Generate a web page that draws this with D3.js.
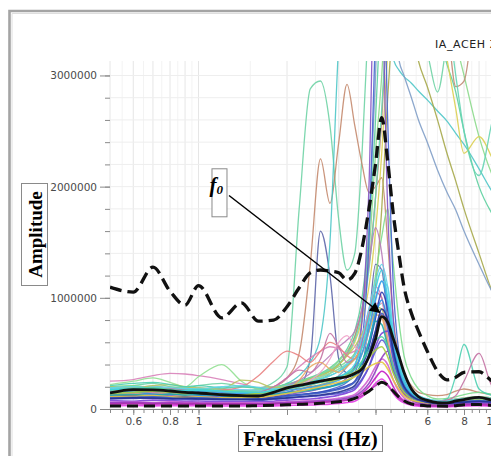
<!DOCTYPE html>
<html>
<head>
<meta charset="utf-8">
<script src="https://cdn.jsdelivr.net/npm/d3@7"></script>
<style>
  html, body { margin: 0; padding: 0; background: #fff; overflow: hidden; }
  svg { display: block; }
</style>
</head>
<body>
<div id="chart"></div>
<script>
// Frequency grid shared by every curve (Hz)
const freqHz = [0.5,0.6,0.7,0.8,0.9,1.0,1.2,1.4,1.6,1.8,2.0,2.2,2.4,2.6,2.8,3.0,3.2,3.4,3.6,3.8,4.0,4.2,4.4,4.6,4.8,5.0,5.3,5.6,6.0,6.5,7.0,7.5,8.0,9.0,10,11];

// Amplitudes below are in thousands
const meanPlusStd  = [1096,1051,1276,1060,934,1110,820,955,790,800,920,1090,1225,1250,1240,1225,1160,1220,1450,1800,2200,2620,2230,1750,1400,1100,860,700,520,340,262,285,330,335,250,220];
const meanCurve    = [144,175,172,162,150,144,128,120,117,150,190,212,232,250,266,280,290,320,360,470,630,830,780,630,480,330,180,110,78,58,55,72,85,105,80,70];
const meanMinusStd = [27,27,27,27,27,27,27,27,30,33,38,42,46,52,58,65,75,95,125,160,205,240,215,160,110,75,45,35,28,26,25,30,38,40,32,28];

// individual window spectra (the tall / coloured ones)
const w01 = [190,210,230,200,190,210,230,200,190,240,380,1800,2880,2950,2550,1700,1250,1400,2300,3600,4600,5000,4800,4500,4200,3900,3600,3400,3200,2850,3300,3700,4000,4200,4200,4200];
const w02 = [110,130,150,125,115,140,125,160,170,200,280,500,1300,2250,1850,2400,2920,2550,2200,1950,2000,2080,1500,800,480,320,210,150,130,120,130,160,180,150,130,120];
const w03 = [95,100,105,98,92,95,90,92,96,110,150,200,450,1600,1200,450,320,300,380,800,1300,1250,800,450,280,170,105,78,60,50,52,58,64,70,62,56];
const w04 = [170,180,175,165,170,175,165,160,170,190,230,300,420,650,1500,3300,4200,4500,4600,4600,4500,4300,3600,3150,3050,2990,2930,2860,2780,2680,2590,2480,2380,2160,1950,1800];
const w05 = [150,160,155,150,145,150,140,135,140,150,170,185,200,220,240,270,310,380,500,700,1100,1800,2800,3600,4200,4000,3450,3130,2900,2600,2300,2050,1800,1400,1050,850];
const w06 = [120,125,118,115,120,118,112,110,115,125,140,160,180,210,250,300,380,500,800,1600,3000,4600,4300,3700,3150,3000,2800,2600,2400,2150,1950,1790,1600,1300,1050,900];
const w07 = [185,195,205,190,180,185,175,170,175,195,225,255,285,320,370,440,540,700,1000,1600,2600,3800,4500,4600,4500,4400,4200,4000,3700,3400,3100,2850,2500,2000,1750,1600];
const w08 = [160,170,180,170,160,165,155,150,160,180,210,240,270,310,360,430,520,650,900,1400,2300,3000,4000,4500,4600,4600,4500,4400,4200,3900,3600,3300,3000,2450,2100,1900];
const w09 = [100,110,120,110,100,110,100,95,100,115,140,170,210,260,320,400,500,650,900,1300,1900,2600,3600,4300,4600,4700,4600,4400,4200,3900,3500,2900,2950,4000,4500,4500];
const w10 = [140,150,160,150,140,145,135,130,140,160,190,220,250,290,340,400,480,600,800,1100,1600,2300,3200,3900,4300,4400,4300,4100,3900,3600,3150,2700,2300,2450,2250,2000];
const w11 = [175,185,190,180,170,175,165,160,165,185,215,245,275,310,350,410,490,620,850,1250,1900,2700,3600,4200,4500,4600,4500,4400,4200,3900,3600,3000,2500,2100,2600,3000];
const w12 = [200,210,190,180,175,185,170,160,170,190,220,250,280,310,340,380,430,500,640,850,1200,1550,1800,1300,800,480,280,180,120,90,95,110,130,150,130,110];
const w13 = [130,140,150,140,130,125,120,130,140,170,210,260,320,400,480,560,620,700,900,1300,1630,1400,900,560,360,240,150,110,85,70,75,85,95,105,95,85];
const w14 = [180,190,200,190,180,190,180,175,170,185,210,230,260,290,320,360,410,480,620,820,1000,1150,1100,700,440,280,170,120,90,75,80,90,100,110,100,90];
const w15 = [120,125,130,120,115,118,110,108,105,115,130,145,160,180,200,230,280,380,800,2000,4200,3800,1800,800,400,220,130,95,70,58,60,66,74,82,74,66];
const w16 = [100,105,110,105,100,102,98,95,92,100,115,125,140,155,175,200,240,320,600,1500,3400,4500,2600,1100,520,280,150,100,75,60,62,68,76,84,76,68];
const w17 = [250,265,300,320,315,300,265,225,190,200,280,380,460,520,560,540,500,520,650,900,1100,1000,700,450,300,200,130,100,80,70,75,80,90,100,90,80];
const w18 = [220,250,280,240,200,290,400,250,180,200,190,210,240,280,320,360,400,450,550,700,850,900,700,450,300,200,130,100,80,70,75,80,90,100,90,80];
const w19 = [200,190,210,220,200,190,180,260,240,190,200,230,270,300,340,400,480,560,680,820,920,900,650,420,280,190,130,100,85,75,80,90,100,110,100,90];
const w20 = [160,170,165,160,155,150,170,200,300,430,520,480,420,520,600,560,480,450,560,720,880,850,600,380,250,170,110,85,70,60,65,72,80,90,80,72];
const w21 = [210,230,240,220,200,210,190,200,190,170,180,210,240,270,300,340,390,450,560,720,880,950,760,480,310,210,140,105,85,72,90,300,580,180,120,100];
const w22 = [190,200,185,175,185,180,200,210,195,180,190,210,240,270,300,340,400,480,640,900,1150,1300,1100,700,440,280,170,120,90,75,78,86,96,106,96,86];
const w23 = [150,160,170,180,170,160,150,140,150,200,280,350,330,450,680,560,420,450,600,850,1050,1000,700,450,300,200,130,100,80,68,80,120,250,500,200,150];
const w24 = [120,130,140,130,125,130,120,115,120,140,170,210,260,330,450,600,660,560,520,700,950,950,680,430,280,190,120,90,72,62,66,74,82,90,82,74];
const w25 = [130,135,140,130,128,130,125,120,125,140,170,260,380,420,360,330,380,450,560,700,850,820,600,380,250,170,110,85,68,58,62,70,78,86,78,70];

// low-amplitude windows that make up the dense band at the bottom
const b01 = [110,120,115,105,110,100,95,100,90,105,120,130,140,150,165,185,210,250,380,560,820,1050,900,560,350,220,130,90,70,55,55,65,75,85,70,60];
const b02 = [140,150,135,130,140,125,120,115,120,135,150,160,175,190,205,230,260,300,420,600,850,980,780,480,300,190,120,90,65,50,55,60,70,80,70,60];
const b03 = [75,70,80,75,70,72,68,70,65,70,80,85,90,100,110,125,145,175,260,380,560,680,700,450,280,170,100,70,50,40,42,50,55,60,55,50];
const b04 = [45,48,44,46,42,45,40,42,40,44,50,52,56,60,65,72,82,95,140,200,280,340,300,200,120,75,45,35,28,25,26,30,34,38,32,30];
const b05 = [30,32,28,30,28,30,27,28,26,28,32,34,36,40,44,50,58,70,110,160,230,270,220,140,85,55,34,26,22,20,20,24,28,30,26,24];
const b06 = [125,130,120,135,125,130,120,110,115,130,145,155,170,185,200,220,250,300,420,600,790,760,560,340,220,150,100,75,60,50,52,60,70,80,70,60];
const b07 = [90,95,100,90,85,88,82,85,80,88,95,105,112,120,130,140,160,190,270,380,520,620,540,340,210,130,80,60,48,40,42,48,55,62,55,50];
const b08 = [60,62,58,64,60,58,55,56,54,58,65,70,75,80,88,96,110,130,190,270,380,450,400,260,160,100,60,45,36,30,32,36,42,46,40,36];
const b09 = [150,160,170,155,150,160,145,140,135,150,170,180,195,210,230,260,300,360,500,720,980,1150,950,580,360,230,140,100,75,60,62,70,80,90,80,70];
const b10 = [55,58,52,55,50,52,50,48,48,52,58,62,66,72,78,86,98,115,160,230,340,460,520,380,230,140,80,55,42,35,36,40,46,52,46,40];
const b11 = [170,185,190,175,165,170,160,150,145,165,190,210,230,250,270,290,320,360,430,530,620,650,560,380,260,180,120,90,70,60,62,70,80,90,80,70];
const b12 = [140,150,160,150,140,145,130,125,140,160,180,200,220,240,250,270,300,330,380,460,530,560,470,320,220,150,100,80,65,55,60,70,80,90,80,70];
const b13 = [110,115,120,110,105,110,100,100,105,120,140,160,180,200,220,240,260,290,330,380,410,420,360,260,180,120,80,65,55,50,55,65,75,85,75,65];
const b14 = [100,105,110,100,95,100,92,90,88,100,115,125,135,145,160,175,200,240,340,500,700,860,740,470,290,180,110,80,60,50,52,60,68,76,68,60];
const b15 = [95,100,98,92,96,90,88,86,84,92,100,110,118,126,138,152,175,210,320,480,700,900,800,520,320,200,120,85,62,50,50,56,62,70,62,56];
const b16 = [50,52,50,48,50,48,46,47,45,48,52,55,58,62,66,72,80,92,120,160,210,240,210,150,100,70,48,38,30,27,28,32,36,40,35,32];
const b17 = [175,180,170,160,165,170,160,150,150,165,185,200,220,240,260,290,330,400,560,800,1080,1250,1000,640,400,250,150,105,80,65,68,75,85,95,85,75];

const windowTraces = [w01,w02,w03,w04,w05,w06,w07,w08,w09,w10,w11,w12,w13,w14,w15,w16,w17,w18,w19,w20,w21,w22,w23,w24,w25];
const windowColors = ["#6fd3a5","#c48a6e","#5d66aa","#4fc6c8","#a6a84a","#7f9dc6","#5ccf9e","#8bd98b","#c08a74","#dccf52",
                      "#66d4b4","#7ddc8c","#b97bb9","#79c9f0","#8352c2","#4565d2","#d882b9","#92e092","#b9c262","#e98282",
                      "#4dcfb0","#5ed5e8","#c472a4","#f1a2c9","#e9aa62"];
const bandTraces = [b01,b02,b03,b04,b05,b06,b07,b08,b09,b10,b11,b12,b13,b14,b15,b16,b17];
const bandColors = ["#2c3cb0","#2a8de8","#7b3fd8","#c41cc4","#e23ce2","#1eaaaa","#5a5ad6","#d060d0","#3aa0e8","#9040c0",
                    "#50d0a0","#a8d040","#e4c640","#4062c8","#252f8f","#b030b0","#40d0e0"];

// axis ticks
const yMajorTicks = [0, 1000000, 2000000, 3000000];
const yMinorTicks = [0,200000,400000,600000,800000,1000000,1200000,1400000,1600000,1800000,2000000,2200000,2400000,2600000,2800000,3000000];
const xMajorTicks = [0.6, 0.8, 1, 2, 4, 6, 8, 10];
const xLabelTicks = [0.6, 0.8, 1, 6, 8, 10];
const xMinorTicks = [0.5,0.55,0.6,0.65,0.7,0.75,0.8,0.85,0.9,0.95,1,1.5,2,2.5,3,3.5,4,4.5,5,5.5,6,6.5,7,7.5,8,8.5,9,9.5,10];
const xGridLines  = [0.5,0.6,0.7,0.8,0.9,1,2,3,4,5,6,7,8,9,10];

// f0 annotation (label anchor, arrow start/end in data units)
const f0Label = { f: 1.107, amp: 2165000 };
const f0ArrowFrom = { f: 1.27, amp: 1920000 };
const f0ArrowTo = { f: 4.13, amp: 870000 };

(function () {
  const W = 491, H = 456;
  const svg = d3.select("#chart").append("svg")
    .attr("width", W).attr("height", H)
    .style("font-family", "'DejaVu Sans', sans-serif");

  const x = d3.scaleLog().domain([0.5, 10]).range([110, 492.5]);
  const y = d3.scaleLinear().domain([0, 3130000]).range([409, 61]);

  // outer frame
  svg.append("path")
    .attr("d", `M9.5,${H} V11 H${W}`)
    .attr("fill", "none").attr("stroke", "#a4a4a4").attr("stroke-width", 2.6);
  svg.append("path")
    .attr("d", `M12,${H} V13.5 H${W}`)
    .attr("fill", "none").attr("stroke", "#dedede").attr("stroke-width", 1);

  const defs = svg.append("defs");
  defs.append("clipPath").attr("id", "plot-clip")
    .append("rect").attr("x", 110).attr("y", 61).attr("width", 400).attr("height", 348);
  defs.append("marker").attr("id", "arrow-head")
    .attr("viewBox", "0 0 10 10").attr("refX", 9).attr("refY", 5)
    .attr("markerWidth", 8).attr("markerHeight", 7).attr("orient", "auto")
    .append("path").attr("d", "M0,0 L10,5 L0,10 z").attr("fill", "#000");

  // grid
  const grid = svg.append("g");
  grid.selectAll(".vg").data(xMinorTicks).join("line")
    .attr("x1", d => x(d)).attr("x2", d => x(d))
    .attr("y1", 61).attr("y2", 409)
    .attr("stroke", d => xGridLines.includes(d) ? "#e6e6e6" : "#f3f3f3").attr("stroke-width", 1);
  grid.selectAll(".hg").data(yMinorTicks).join("line")
    .attr("x1", 110).attr("x2", W)
    .attr("y1", d => y(d)).attr("y2", d => y(d))
    .attr("stroke", "#eeeeee").attr("stroke-width", 1);

  const line = d3.line()
    .x((d, i) => x(freqHz[i]))
    .y(d => y(d * 1000))
    .curve(d3.curveMonotoneX);

  const plot = svg.append("g").attr("clip-path", "url(#plot-clip)");

  plot.selectAll(".win").data(windowTraces).join("path")
    .attr("d", line)
    .attr("fill", "none")
    .attr("stroke", (d, i) => windowColors[i])
    .attr("stroke-width", 1.3)
    .attr("opacity", 0.9);

  plot.selectAll(".band").data(bandTraces).join("path")
    .attr("d", line)
    .attr("fill", "none")
    .attr("stroke", (d, i) => bandColors[i])
    .attr("stroke-width", 1.6)
    .attr("opacity", 0.9);

  // mean and +/- std
  plot.append("path").datum(meanMinusStd).attr("d", line)
    .attr("fill", "none").attr("stroke", "#111").attr("stroke-width", 3)
    .attr("stroke-dasharray", "11,6");
  plot.append("path").datum(meanCurve).attr("d", line)
    .attr("fill", "none").attr("stroke", "#111").attr("stroke-width", 2.8);
  plot.append("path").datum(meanPlusStd).attr("d", line)
    .attr("fill", "none").attr("stroke", "#111").attr("stroke-width", 3.3)
    .attr("stroke-dasharray", "12,6");

  // y axis: minor + major ticks, no spine
  const yMinor = svg.append("g").attr("transform", "translate(110,0)")
    .call(d3.axisLeft(y).tickValues(yMinorTicks).tickSize(5).tickFormat(""));
  const yMajor = svg.append("g").attr("transform", "translate(110,0)")
    .call(d3.axisLeft(y).tickValues(yMajorTicks).tickSize(10).tickPadding(3).tickFormat(d3.format("d")));
  [yMinor, yMajor].forEach(g => {
    g.select(".domain").remove();
    g.selectAll("line").attr("stroke", "#8a8a8a");
  });
  yMajor.selectAll("text").attr("font-size", "10.5px").attr("fill", "#4a4a4a")
    .style("font-family", "'DejaVu Sans', sans-serif");

  // x axis
  const xMinor = svg.append("g").attr("transform", "translate(0,409)")
    .call(d3.axisBottom(x).tickValues(xMinorTicks).tickSize(4).tickSizeOuter(0).tickFormat(""));
  xMinor.select(".domain").attr("stroke", "#8a8a8a");
  xMinor.selectAll("line").attr("stroke", "#8a8a8a");
  const xMajor = svg.append("g").attr("transform", "translate(0,409)")
    .call(d3.axisBottom(x).tickValues(xMajorTicks).tickSize(6).tickPadding(3)
      .tickFormat(d => xLabelTicks.includes(d) ? String(d) : ""));
  xMajor.select(".domain").remove();
  xMajor.selectAll("line").attr("stroke", "#8a8a8a");
  xMajor.selectAll("text").attr("font-size", "10.5px").attr("fill", "#4a4a4a")
    .style("font-family", "'DejaVu Sans', sans-serif");

  // station name
  svg.append("text")
    .attr("x", 435).attr("y", 48)
    .attr("font-size", "11px").attr("fill", "#222")
    .attr("letter-spacing", "0.6px")
    .text("IA_ACEH Z");

  // axis titles in boxes
  const serif = "'Liberation Serif', 'Times New Roman', serif";
  svg.append("rect").attr("x", 21.5).attr("y", 183.5).attr("width", 26).attr("height", 102)
    .attr("fill", "#fff").attr("stroke", "#8a8a8a");
  svg.append("text")
    .attr("transform", "translate(35,234.5) rotate(-90)")
    .attr("text-anchor", "middle").attr("dominant-baseline", "central")
    .attr("font-family", serif).attr("font-weight", "bold").attr("font-size", "19px")
    .attr("fill", "#000")
    .text("Amplitude");

  svg.append("rect").attr("x", 238.5).attr("y", 425.5).attr("width", 144).attr("height", 26)
    .attr("fill", "#fff").attr("stroke", "#8a8a8a");
  svg.append("text")
    .attr("x", 310.5).attr("y", 439)
    .attr("text-anchor", "middle").attr("dominant-baseline", "central")
    .attr("font-family", serif).attr("font-weight", "bold").attr("font-size", "21px")
    .attr("fill", "#000")
    .text("Frekuensi (Hz)");

  // f0 label and arrow
  const fx = x(f0Label.f), fy = y(f0Label.amp);
  svg.append("rect").attr("x", fx + 0.5).attr("y", fy + 0.5).attr("width", 15).attr("height", 48)
    .attr("fill", "#fff").attr("stroke", "#8a8a8a");
  const ft = svg.append("text")
    .attr("x", fx - 2).attr("y", fy + 24)
    .attr("font-family", serif).attr("font-style", "italic").attr("font-weight", "bold")
    .attr("font-size", "21px").attr("fill", "#000");
  ft.append("tspan").text("f");
  ft.append("tspan").attr("font-size", "13px").attr("dy", 2).text("0");

  svg.append("line")
    .attr("x1", x(f0ArrowFrom.f)).attr("y1", y(f0ArrowFrom.amp))
    .attr("x2", x(f0ArrowTo.f)).attr("y2", y(f0ArrowTo.amp))
    .attr("stroke", "#000").attr("stroke-width", 1.5)
    .attr("marker-end", "url(#arrow-head)");
})();
</script>
</body>
</html>
